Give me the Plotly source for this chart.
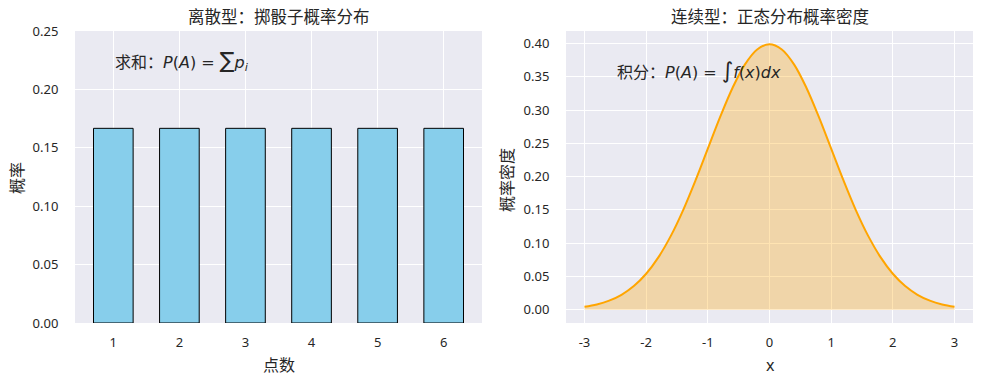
import plotly.graph_objects as go

# ---- data ----
dice_points = [1, 2, 3, 4, 5, 6]
dice_prob = [1/6, 1/6, 1/6, 1/6, 1/6, 1/6]

pdf_x = [-3.0, -2.8, -2.6, -2.4, -2.2, -2.0, -1.8, -1.6, -1.4, -1.2, -1.0,
         -0.8, -0.6, -0.4, -0.2, 0.0, 0.2, 0.4, 0.6, 0.8, 1.0,
         1.2, 1.4, 1.6, 1.8, 2.0, 2.2, 2.4, 2.6, 2.8, 3.0]
pdf_y = [0.0044, 0.0079, 0.0136, 0.0224, 0.0355, 0.0540, 0.0790, 0.1109, 0.1497, 0.1942, 0.2420,
         0.2897, 0.3332, 0.3683, 0.3910, 0.3989, 0.3910, 0.3683, 0.3332, 0.2897, 0.2420,
         0.1942, 0.1497, 0.1109, 0.0790, 0.0540, 0.0355, 0.0224, 0.0136, 0.0079, 0.0044]

left_yticks = [0.0, 0.05, 0.10, 0.15, 0.20, 0.25]
right_yticks = [0.0, 0.05, 0.10, 0.15, 0.20, 0.25, 0.30, 0.35, 0.40]
right_xticks = [-3, -2, -1, 0, 1, 2, 3]
right_xticktext = ["-3", "-2", "-1", "0", "1", "2", "3"]

W, H = 984, 384
OFF = 8  # page body margin
FONT = "Noto Sans, Noto Sans CJK SC, DejaVu Sans"
TXT = "#262626"
BG = "#EAEAF2"

fig = go.Figure()

fig.add_trace(go.Bar(
    x=dice_points, y=dice_prob, width=0.6,
    marker=dict(color="#87CEEB", line=dict(color="black", width=1)),
    xaxis="x", yaxis="y", showlegend=False,
))

fig.add_trace(go.Scatter(
    x=pdf_x, y=pdf_y, mode="lines", line=dict(color="#FFA500", width=2, shape="spline"),
    fill="tozeroy", fillcolor="rgba(255,165,0,0.3)",
    xaxis="x2", yaxis="y2", showlegend=False,
))

def px_x(p):
    return (p - OFF) / W

def px_y(p):
    return 1 - (p - OFF) / H

ydom = [px_y(323), px_y(31)]
common_axis = dict(showgrid=True, gridcolor="white", gridwidth=1, zeroline=False,
                   showline=False, ticks="outside", tickcolor="rgba(0,0,0,0)",
                   automargin=False,
                   tickfont=dict(family=FONT, size=13, color=TXT))

fig.update_layout(
    template="none",
    width=W, height=H, margin=dict(l=0, r=0, t=0, b=0, pad=0, autoexpand=False),
    paper_bgcolor="white", plot_bgcolor=BG,
    xaxis=dict(domain=[px_x(75), px_x(482)], range=[0.42, 6.58], tickvals=dice_points,
               ticklen=7, anchor="y", **common_axis),
    yaxis=dict(domain=ydom, range=[0, 0.25], tickvals=left_yticks, tickformat=".2f",
               ticklen=13, anchor="x", **common_axis),
    xaxis2=dict(domain=[px_x(566), px_x(973)], range=[-3.3, 3.3], tickvals=right_xticks,
                ticktext=right_xticktext, ticklen=7, anchor="y2", **common_axis),
    yaxis2=dict(domain=ydom, range=[-0.02, 0.4188], tickvals=right_yticks, tickformat=".2f",
                ticklen=13, anchor="x2", **common_axis),
    font=dict(family=FONT, color=TXT),
    showlegend=False,
)

ann = []
def lab(text, x, y, size=16, angle=0):
    ann.append(dict(text=text, x=px_x(x), y=px_y(y), xref="paper", yref="paper", textangle=angle,
                    showarrow=False, font=dict(size=size, family=FONT, color=TXT),
                    xanchor="center", yanchor="middle"))

lab("离散型：掷骰子概率分布", 278.5, 16, size=16.5)
lab("连续型：正态分布概率密度", 770, 16, size=16.5)
lab("点数", 278.5, 365)
lab("x", 770, 365)
lab("概率", 17, 178, angle=-90)
lab("概率密度", 507, 180, angle=-90)

m = "font-family:DejaVu Sans"
ann.append(dict(
    text=("求和：<span style='%s'><i>P</i>(<i>A</i>) = </span>"
          "<span style='%s;font-size:22px'>∑</span>"
          "<span style='%s'><i>p</i><sub><i>i</i></sub></span>") % (m, m, m),
    x=1.0, y=0.2245, xref="x", yref="y", showarrow=False,
    font=dict(size=16, family=FONT, color=TXT), xanchor="left", yanchor="middle"))
ann.append(dict(
    text=("积分：<span style='%s'><i>P</i>(<i>A</i>) = </span>"
          "<span style='%s;font-size:22px'>∫</span>"
          "<span style='%s'><i>f</i>(<i>x</i>)<i>dx</i></span>") % (m, m, m),
    x=-2.5, y=0.359, xref="x2", yref="y2", showarrow=False,
    font=dict(size=16, family=FONT, color=TXT), xanchor="left", yanchor="middle"))

fig.update_layout(annotations=ann)
fig.write_html("out.html")
